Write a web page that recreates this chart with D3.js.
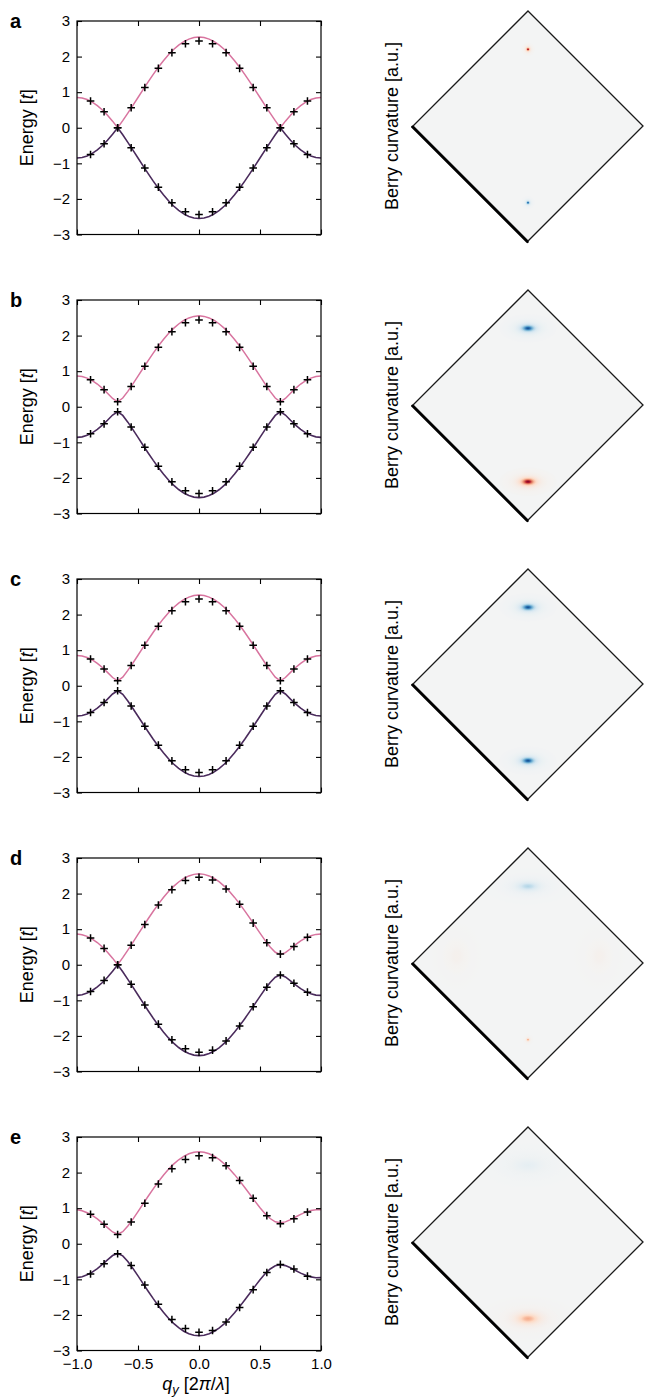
<!DOCTYPE html>
<html><head><meta charset="utf-8">
<script src="https://cdn.jsdelivr.net/npm/d3@7"></script>
<style>
body{margin:0;background:#fff}
svg{display:block}
text{font-family:"Liberation Sans",Arial,Helvetica,sans-serif;fill:#000}
</style>
</head><body>
<svg id="fig" width="649" height="1400"></svg>
<script>
// ---------------- DATA ----------------
const panelLabels = ["a","b","c","d","e"];
const yTicks = [-3,-2,-1,0,1,2,3];
const xTicks = [-1,-0.5,0,0.5,1];

// q_y sample positions of the continuous bands
const qGrid = [-1,-0.9583,-0.9167,-0.875,-0.8333,-0.7917,-0.75,-0.7083,-0.6667,-0.625,-0.5833,-0.5417,-0.5,-0.4583,-0.4167,-0.375,-0.3333,-0.2917,-0.25,-0.2083,-0.1667,-0.125,-0.0833,-0.0417,0,0.0417,0.0833,0.125,0.1667,0.2083,0.25,0.2917,0.3333,0.375,0.4167,0.4583,0.5,0.5417,0.5833,0.625,0.6667,0.7083,0.75,0.7917,0.8333,0.875,0.9167,0.9583,1];

// upper bands (pink)
const upperA = [0.85,0.836,0.792,0.721,0.622,0.499,0.352,0.185,0,0.199,0.41,0.628,0.85,1.072,1.29,1.501,1.7,1.885,2.052,2.199,2.322,2.421,2.492,2.536,2.55,2.536,2.492,2.421,2.322,2.199,2.052,1.885,1.7,1.501,1.29,1.072,0.85,0.628,0.41,0.199,0,0.185,0.352,0.499,0.622,0.721,0.792,0.836,0.85];
const upperB = [0.862,0.847,0.804,0.734,0.638,0.518,0.379,0.232,0.14,0.244,0.433,0.644,0.862,1.081,1.298,1.507,1.706,1.89,2.057,2.203,2.326,2.425,2.496,2.539,2.554,2.539,2.496,2.425,2.326,2.203,2.057,1.89,1.706,1.507,1.298,1.081,0.862,0.644,0.433,0.244,0.14,0.232,0.379,0.518,0.638,0.734,0.804,0.847,0.862];
const upperC = [0.85,0.836,0.794,0.725,0.63,0.512,0.375,0.231,0.14,0.242,0.431,0.64,0.857,1.076,1.292,1.502,1.701,1.886,2.053,2.199,2.322,2.421,2.492,2.536,2.55,2.536,2.492,2.421,2.322,2.199,2.053,1.886,1.701,1.502,1.292,1.076,0.857,0.64,0.431,0.242,0.14,0.231,0.375,0.512,0.63,0.725,0.794,0.836,0.85];
const upperD = [0.862,0.844,0.797,0.723,0.624,0.499,0.352,0.185,0,0.199,0.41,0.628,0.851,1.073,1.292,1.503,1.703,1.888,2.056,2.203,2.326,2.425,2.496,2.54,2.554,2.54,2.496,2.425,2.327,2.204,2.059,1.893,1.711,1.515,1.31,1.099,0.888,0.684,0.497,0.35,0.29,0.342,0.45,0.566,0.67,0.756,0.817,0.853,0.862];
const upperE = [0.953,0.926,0.873,0.797,0.698,0.581,0.452,0.331,0.272,0.34,0.498,0.693,0.904,1.12,1.335,1.543,1.741,1.925,2.092,2.238,2.36,2.458,2.529,2.572,2.586,2.572,2.529,2.459,2.363,2.243,2.102,1.942,1.767,1.582,1.39,1.198,1.013,0.846,0.709,0.618,0.588,0.614,0.676,0.752,0.826,0.888,0.932,0.955,0.953];

// lower bands (dark purple)
const lowerA = [-0.85,-0.836,-0.792,-0.721,-0.622,-0.499,-0.352,-0.185,0,-0.199,-0.41,-0.628,-0.85,-1.072,-1.29,-1.501,-1.7,-1.885,-2.052,-2.199,-2.322,-2.421,-2.492,-2.536,-2.55,-2.536,-2.492,-2.421,-2.322,-2.199,-2.052,-1.885,-1.7,-1.501,-1.29,-1.072,-0.85,-0.628,-0.41,-0.199,0,-0.185,-0.352,-0.499,-0.622,-0.721,-0.792,-0.836,-0.85];
const lowerB = [-0.862,-0.847,-0.804,-0.734,-0.638,-0.518,-0.379,-0.232,-0.14,-0.244,-0.433,-0.644,-0.862,-1.081,-1.298,-1.507,-1.706,-1.89,-2.057,-2.203,-2.326,-2.425,-2.496,-2.539,-2.554,-2.539,-2.496,-2.425,-2.326,-2.203,-2.057,-1.89,-1.706,-1.507,-1.298,-1.081,-0.862,-0.644,-0.433,-0.244,-0.14,-0.232,-0.379,-0.518,-0.638,-0.734,-0.804,-0.847,-0.862];
const lowerC = [-0.85,-0.836,-0.794,-0.725,-0.63,-0.512,-0.375,-0.231,-0.14,-0.242,-0.431,-0.64,-0.857,-1.076,-1.292,-1.502,-1.701,-1.886,-2.053,-2.199,-2.322,-2.421,-2.492,-2.536,-2.55,-2.536,-2.492,-2.421,-2.322,-2.199,-2.053,-1.886,-1.701,-1.502,-1.292,-1.076,-0.857,-0.64,-0.431,-0.242,-0.14,-0.231,-0.375,-0.512,-0.63,-0.725,-0.794,-0.836,-0.85];
const lowerD = [-0.862,-0.844,-0.797,-0.723,-0.624,-0.499,-0.352,-0.185,0,-0.199,-0.41,-0.628,-0.851,-1.073,-1.292,-1.503,-1.703,-1.888,-2.056,-2.203,-2.326,-2.425,-2.496,-2.54,-2.554,-2.54,-2.496,-2.425,-2.327,-2.204,-2.059,-1.893,-1.711,-1.515,-1.31,-1.099,-0.888,-0.684,-0.497,-0.35,-0.29,-0.342,-0.45,-0.566,-0.67,-0.756,-0.817,-0.853,-0.862];
const lowerE = [-0.953,-0.926,-0.873,-0.797,-0.698,-0.581,-0.452,-0.331,-0.272,-0.34,-0.498,-0.693,-0.904,-1.12,-1.335,-1.543,-1.741,-1.925,-2.092,-2.238,-2.36,-2.458,-2.529,-2.572,-2.586,-2.572,-2.529,-2.459,-2.363,-2.243,-2.102,-1.942,-1.767,-1.582,-1.39,-1.198,-1.013,-0.846,-0.709,-0.618,-0.588,-0.614,-0.676,-0.752,-0.826,-0.888,-0.932,-0.955,-0.953];

// simulated points (black +)
const qMarks = [-0.889,-0.778,-0.667,-0.556,-0.444,-0.333,-0.222,-0.111,0,0.111,0.222,0.333,0.444,0.556,0.667,0.778,0.889];
const markUpA = [0.75,0.45,0,0.56,1.13,1.67,2.11,2.36,2.44,2.36,2.11,1.67,1.13,0.56,0,0.45,0.75];
const markLoA = [-0.75,-0.45,0,-0.56,-1.13,-1.67,-2.11,-2.36,-2.44,-2.36,-2.11,-1.67,-1.13,-0.56,0,-0.45,-0.75];
const markUpB = [0.76,0.48,0.14,0.57,1.14,1.67,2.11,2.36,2.44,2.36,2.11,1.67,1.14,0.57,0.14,0.48,0.76];
const markLoB = [-0.76,-0.48,-0.14,-0.57,-1.14,-1.67,-2.11,-2.36,-2.44,-2.36,-2.11,-1.67,-1.14,-0.57,-0.14,-0.48,-0.76];
const markUpC = [0.75,0.47,0.14,0.57,1.14,1.67,2.11,2.36,2.44,2.36,2.11,1.67,1.14,0.57,0.14,0.47,0.75];
const markLoC = [-0.75,-0.47,-0.14,-0.57,-1.14,-1.67,-2.11,-2.36,-2.44,-2.36,-2.11,-1.67,-1.14,-0.57,-0.14,-0.47,-0.75];
const markUpD = [0.75,0.46,0,0.55,1.13,1.68,2.11,2.37,2.46,2.38,2.13,1.7,1.17,0.62,0.3,0.51,0.77];
const markLoD = [-0.75,-0.44,0,-0.55,-1.13,-1.67,-2.11,-2.36,-2.46,-2.4,-2.14,-1.72,-1.18,-0.63,-0.29,-0.52,-0.77];
const markUpE = [0.83,0.55,0.26,0.61,1.14,1.68,2.11,2.37,2.47,2.42,2.19,1.78,1.28,0.79,0.56,0.7,0.89];
const markLoE = [-0.85,-0.56,-0.28,-0.61,-1.16,-1.7,-2.13,-2.38,-2.49,-2.44,-2.2,-1.79,-1.29,-0.81,-0.58,-0.71,-0.91];

// Berry curvature hot spots in the Brillouin zone (q units, signed amplitude)
const spotPanel = ["a","a","b","b","c","c","d","d","d","d","e","e"];
const spotQx    = [0,0,0,0,0,0,0,0,-0.62,0.62,0,0];
const spotQy    = [0.667,-0.667,0.667,-0.667,0.667,-0.667,0.667,-0.667,0.06,0.06,0.667,-0.667];
const spotValue = [0.95,-0.9,-0.9,0.95,-0.9,-0.9,-0.3,0.45,0.035,0.035,-0.08,0.38];
const spotSx    = [0.012,0.012,0.05,0.05,0.05,0.05,0.085,0.01,0.09,0.09,0.15,0.085];
const spotSy    = [0.012,0.012,0.025,0.025,0.025,0.025,0.035,0.01,0.12,0.12,0.07,0.04];

const upper = {a:upperA,b:upperB,c:upperC,d:upperD,e:upperE};
const lower = {a:lowerA,b:lowerB,c:lowerC,d:lowerD,e:lowerE};
const markUp = {a:markUpA,b:markUpB,c:markUpC,d:markUpD,e:markUpE};
const markLo = {a:markLoA,b:markLoB,c:markLoC,d:markLoD,e:markLoE};

// ---------------- DRAW ----------------
const svg = d3.select("#fig");
const defs = svg.append("defs");
const colUp = "#d8749f", colLo = "#4a2b5c";
const bg = "#f3f4f4";
const color = d3.scaleDiverging(
  d3.piecewise(d3.interpolateRgb, ["#67001f","#b2182b","#d6604d","#f4a582","#fddbc7",bg,"#d1e5f0","#92c5de","#4393c3","#2166ac","#053061"])
).domain([1,0,-1]);

const x = d3.scaleLinear([-1,1],[77,321]);
const plotH = 213.5;
const panelStep = 279;
const firstTop = 21;

panelLabels.forEach((p,pi)=>{
  const top = firstTop + pi*panelStep;
  const y = d3.scaleLinear([-3,3],[top+plotH, top]);
  const g = svg.append("g");

  g.append("text").attr("x",10).attr("y",top+7)
    .style("font-size","20px").style("font-weight","bold").text(p);

  const cid = "clip"+p;
  defs.append("clipPath").attr("id",cid).append("rect")
    .attr("x",x(-1)).attr("y",top).attr("width",x(1)-x(-1)).attr("height",plotH);

  const line = d3.line().x((d,i)=>x(qGrid[i])).y(d=>y(d));
  const cg = g.append("g").attr("clip-path",`url(#${cid})`);
  cg.append("path").datum(upper[p]).attr("d",line)
    .attr("fill","none").attr("stroke",colUp).attr("stroke-width",1.5);
  cg.append("path").datum(lower[p]).attr("d",line)
    .attr("fill","none").attr("stroke",colLo).attr("stroke-width",1.6);

  const pts = qMarks.map((q,i)=>[q,markUp[p][i]]).concat(qMarks.map((q,i)=>[q,markLo[p][i]]));
  g.selectAll(".m").data(pts).join("path")
    .attr("transform",d=>`translate(${x(d[0])},${y(d[1])})`)
    .attr("d","M-3.8,0H3.8M0,-3.8V3.8")
    .attr("stroke","#000").attr("stroke-width",1.5).attr("fill","none");

  const fmtY = d3.format("d");
  const left = g.append("g").attr("transform",`translate(${x(-1)},0)`)
    .call(d3.axisLeft(y).tickValues(yTicks).tickSize(-5).tickSizeOuter(0).tickPadding(7).tickFormat(fmtY));
  const right = g.append("g").attr("transform",`translate(${x(1)},0)`)
    .call(d3.axisRight(y).tickValues(yTicks).tickSize(-5).tickSizeOuter(0).tickFormat(""));
  const bottom = g.append("g").attr("transform",`translate(0,${top+plotH})`)
    .call(d3.axisBottom(x).tickValues(xTicks).tickSize(-5).tickSizeOuter(0).tickPadding(8)
      .tickFormat(pi===4 ? d3.format(".1f") : ""));
  const topAx = g.append("g").attr("transform",`translate(0,${top})`)
    .call(d3.axisTop(x).tickValues(xTicks).tickSize(-5).tickSizeOuter(0).tickFormat(""));
  [left,right,bottom,topAx].forEach(a=>{
    a.select(".domain").remove();
    a.selectAll("line").attr("stroke","#000").attr("stroke-width",1.1);
    a.selectAll("text").style("font-size","15px").attr("fill","#000");
  });
  g.append("rect").attr("x",x(-1)).attr("y",top).attr("width",x(1)-x(-1)).attr("height",plotH)
    .attr("fill","none").attr("stroke","#000").attr("stroke-width",1.2);

  const yl = g.append("text")
    .attr("transform",`translate(33,${top+plotH/2}) rotate(-90)`)
    .attr("text-anchor","middle").style("font-size","18px");
  yl.append("tspan").text("Energy [");
  yl.append("tspan").style("font-style","italic").text("t");
  yl.append("tspan").text("]");

  // ---- Berry curvature diamond ----
  const cx = 528, cy = top + 105, R = 115;
  const bx = d3.scaleLinear([-1,1],[cx-R, cx+R]);
  const by = d3.scaleLinear([-1,1],[cy+R, cy-R]);
  const bs = d3.scaleLinear([0,2],[0,2*R]);
  const dia = `M${bx(0)},${by(1)}L${bx(1)},${by(0)}L${bx(0)},${by(-1)}L${bx(-1)},${by(0)}Z`;
  const did = "dclip"+p;
  defs.append("clipPath").attr("id",did).append("path").attr("d",dia);
  g.append("path").attr("d",dia).attr("fill",bg);
  const sg = g.append("g").attr("clip-path",`url(#${did})`);
  spotPanel.forEach((sp,si)=>{
    if(sp!==p) return;
    const gid = `grad${p}${si}`;
    const grad = defs.append("radialGradient").attr("id",gid);
    const amp = spotValue[si];
    const N = 14, reach = 5;
    for(let k=0;k<=N;k++){
      const t = k/N, r = t*reach;
      grad.append("stop").attr("offset",t)
        .attr("stop-color", color(amp/Math.pow(1+r*r,1.5)));
    }
    sg.append("ellipse")
      .attr("cx",bx(spotQx[si])).attr("cy",by(spotQy[si]))
      .attr("rx",bs(spotSx[si])*reach).attr("ry",bs(spotSy[si])*reach)
      .attr("fill",`url(#${gid})`);
  });
  g.append("path").attr("d",dia).attr("fill","none").attr("stroke","#1a1a1a").attr("stroke-width",1.3);
  g.append("line")
    .attr("x1",bx(-1)-0.6).attr("y1",by(0)+0.9).attr("x2",bx(0)-0.6).attr("y2",by(-1)+0.9)
    .attr("stroke","#000").attr("stroke-width",2.6).attr("stroke-linecap","round");

  g.append("text")
    .attr("transform",`translate(398,${cy}) rotate(-90)`)
    .attr("text-anchor","middle").style("font-size","18px")
    .text("Berry curvature [a.u.]");
});

const xt = svg.append("text").attr("x",196).attr("y",1390).attr("text-anchor","middle").style("font-size","18px");
xt.append("tspan").style("font-style","italic").text("q");
xt.append("tspan").style("font-style","italic").style("font-size","13px").attr("dy",4).text("y");
xt.append("tspan").attr("dy",-4).text(" [2");
xt.append("tspan").style("font-style","italic").text("π");
xt.append("tspan").text("/");
xt.append("tspan").style("font-style","italic").text("λ");
xt.append("tspan").text("]");
</script>
</body></html>
